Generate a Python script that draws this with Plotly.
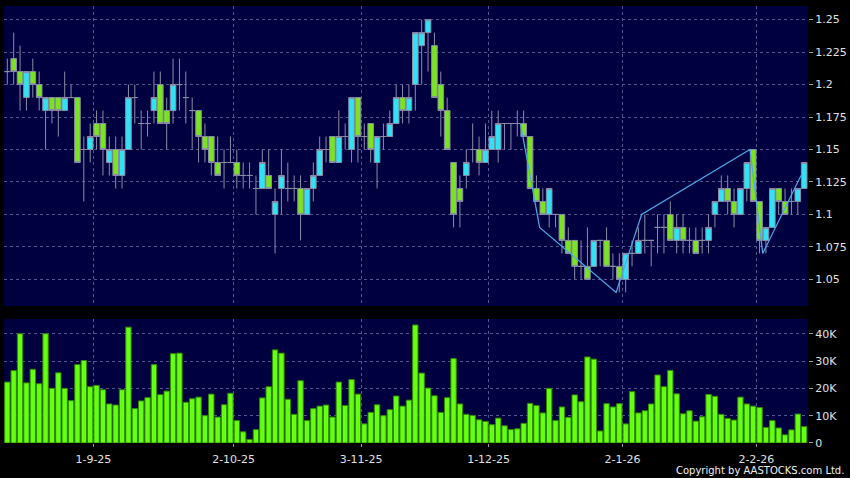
import pandas as pd
import plotly.graph_objects as go

# ---- data -------------------------------------------------------------
holidays = ["2025-10-01", "2025-10-07", "2025-10-29",
            "2025-12-25", "2025-12-26", "2026-01-01"]
dates = [d for d in pd.bdate_range("2025-08-13", "2026-02-12")
         if d.strftime("%Y-%m-%d") not in holidays]

open_ = [1.21,1.22,1.21,1.19,1.21,1.20,1.18,1.19,1.19,1.18,
         1.19,1.19,1.15,1.15,1.17,1.17,1.14,1.15,1.13,1.15,
         1.19,1.17,1.17,1.18,1.20,1.18,1.18,1.20,1.19,1.18,
         1.18,1.16,1.16,1.14,1.14,1.14,1.14,1.13,1.13,1.12,
         1.12,1.13,1.10,1.12,1.12,1.12,1.12,1.10,1.12,1.13,
         1.15,1.16,1.14,1.16,1.15,1.19,1.16,1.17,1.14,1.16,
         1.16,1.17,1.19,1.18,1.20,1.23,1.24,1.23,1.20,1.18,
         1.14,1.12,1.13,1.15,1.15,1.14,1.15,1.15,1.17,1.17,
         1.17,1.17,1.16,1.12,1.11,1.10,1.10,1.10,1.08,1.08,
         1.06,1.06,1.06,1.08,1.08,1.06,1.06,1.05,1.07,1.07,
         1.08,1.08,1.09,1.09,1.10,1.08,1.09,1.08,1.08,1.08,
         1.08,1.10,1.11,1.12,1.11,1.10,1.12,1.15,1.11,1.08,
         1.09,1.12,1.11,1.11,1.11,1.12]
high = [1.22,1.24,1.23,1.21,1.22,1.21,1.19,1.19,1.19,1.21,
        1.20,1.19,1.16,1.17,1.18,1.18,1.16,1.16,1.16,1.20,
        1.20,1.18,1.18,1.21,1.21,1.19,1.22,1.22,1.21,1.19,
        1.18,1.17,1.16,1.16,1.15,1.16,1.15,1.14,1.14,1.13,
        1.15,1.15,1.12,1.15,1.14,1.13,1.13,1.12,1.14,1.16,
        1.16,1.16,1.18,1.17,1.19,1.19,1.17,1.17,1.16,1.17,
        1.18,1.20,1.20,1.20,1.24,1.25,1.25,1.24,1.21,1.19,
        1.14,1.13,1.15,1.17,1.16,1.17,1.18,1.18,1.17,1.17,
        1.18,1.18,1.16,1.13,1.12,1.12,1.10,1.10,1.09,1.08,
        1.08,1.09,1.08,1.08,1.09,1.07,1.07,1.07,1.08,1.09,
        1.10,1.08,1.10,1.10,1.11,1.10,1.10,1.09,1.09,1.09,
        1.10,1.11,1.13,1.13,1.12,1.12,1.14,1.15,1.11,1.09,
        1.12,1.12,1.12,1.12,1.12,1.14]
low = [1.20,1.20,1.18,1.18,1.19,1.18,1.15,1.17,1.16,1.18,
       1.19,1.14,1.11,1.14,1.15,1.13,1.13,1.12,1.12,1.15,
       1.17,1.15,1.16,1.17,1.17,1.15,1.17,1.18,1.17,1.15,
       1.14,1.14,1.13,1.13,1.12,1.14,1.12,1.12,1.12,1.10,
       1.12,1.12,1.07,1.10,1.11,1.11,1.08,1.10,1.11,1.13,
       1.14,1.14,1.14,1.15,1.14,1.14,1.15,1.14,1.12,1.15,
       1.16,1.17,1.17,1.17,1.18,1.20,1.21,1.19,1.16,1.15,
       1.09,1.09,1.12,1.14,1.13,1.14,1.15,1.14,1.15,1.15,
       1.16,1.16,1.12,1.11,1.10,1.09,1.09,1.07,1.07,1.05,
       1.05,1.05,1.06,1.06,1.06,1.05,1.04,1.04,1.06,1.07,
       1.07,1.06,1.07,1.07,1.08,1.07,1.07,1.07,1.07,1.07,
       1.07,1.09,1.11,1.10,1.09,1.10,1.11,1.11,1.07,1.07,
       1.09,1.10,1.10,1.10,1.10,1.12]
close = [1.21,1.21,1.20,1.21,1.20,1.19,1.19,1.18,1.18,1.19,
         1.19,1.14,1.15,1.16,1.16,1.15,1.15,1.13,1.15,1.19,
         1.19,1.17,1.17,1.19,1.17,1.17,1.20,1.20,1.19,1.18,
         1.16,1.15,1.14,1.13,1.14,1.14,1.13,1.13,1.13,1.12,
         1.14,1.12,1.11,1.13,1.12,1.12,1.10,1.12,1.13,1.15,
         1.15,1.14,1.16,1.16,1.19,1.16,1.16,1.15,1.16,1.16,
         1.17,1.19,1.18,1.19,1.24,1.24,1.25,1.19,1.18,1.15,
         1.10,1.11,1.14,1.15,1.14,1.15,1.16,1.17,1.17,1.17,
         1.17,1.16,1.12,1.11,1.10,1.12,1.10,1.08,1.07,1.06,
         1.06,1.05,1.08,1.08,1.06,1.06,1.05,1.07,1.07,1.08,
         1.08,1.08,1.09,1.09,1.08,1.09,1.08,1.08,1.07,1.08,
         1.09,1.11,1.12,1.11,1.10,1.12,1.14,1.11,1.08,1.09,
         1.12,1.11,1.10,1.11,1.12,1.14]
volume_k = [22.3,26.5,40,22,27,21.7,40,20,25.7,20,
            15.5,28.7,30.2,20.6,21.1,19.5,14.3,13.9,19.5,42.4,
            12.6,15.4,16.6,28.7,17.7,19,32.7,32.9,14.9,16.2,
            16.8,10,17.9,9.5,14,18.2,8.2,4.1,1.3,4.9,
            16.5,20.6,34.1,32.9,16,10.5,22.8,8.2,12.6,13.5,
            13.9,9.5,22.3,13.7,23.2,17.9,7,11.2,14,10,
            12.2,17.2,13.5,15.7,43.2,25.6,20.1,17.3,11.2,16.6,
            30.9,14.3,10.5,10.1,8.5,7.9,6.7,9.1,6.3,4.9,
            5.2,7.2,14.5,13.7,11,20,8.2,13.2,9.4,17.6,
            15.1,31.5,30.7,4.4,14.4,13.2,14.4,7,18.8,11,
            11.8,14.3,24.9,20.6,26.6,18,10.7,11.8,8,9.6,
            17.8,17.1,10.5,9,8.4,16.8,14.3,13.5,13,5.7,
            8.2,5.5,3,4.8,10.6,6]
volume = [v * 1000 for v in volume_k]

# zig-zag line: (trading-day index, price)
zz_index = [81, 84, 96, 100, 117, 119, 125]
zz_price = [1.17, 1.09, 1.04, 1.10, 1.15, 1.07, 1.13]

price_ticks = [1.05, 1.075, 1.1, 1.125, 1.15, 1.175, 1.2, 1.225, 1.25]
price_labels = ["1.05", "1.075", "1.1", "1.125", "1.15", "1.175", "1.2", "1.225", "1.25"]
vol_ticks = [0, 10000, 20000, 30000, 40000]
vol_labels = ["0", "10K", "20K", "30K", "40K"]

# month ticks: first trading day of each full month
idx = list(range(len(dates)))
month_ticks, month_labels = [], []
for i, d in enumerate(dates):
    if i > 0 and d.month != dates[i - 1].month:
        month_ticks.append(i + 0.5)
        month_labels.append(f"{d.day}-{d.month}-{d.year % 100}")

# ---- figure -----------------------------------------------------------
GRID = "#55558f"
FONT = dict(family="DejaVu Sans", size=11, color="#e0e0e0")
common_grid = dict(showgrid=True, gridcolor=GRID, griddash="3px,3px", gridwidth=1,
                   zeroline=False, automargin=False, fixedrange=True)

fig = go.Figure()
fig.add_trace(go.Scatter(
    x=[i - 0.5 for i in zz_index], y=zz_price, mode="lines",
    line=dict(color="#4fa8e8", width=1.2), xaxis="x", yaxis="y",
    hoverinfo="skip"))
fig.add_trace(go.Candlestick(
    x=idx, open=open_, high=high, low=low, close=close,
    increasing=dict(fillcolor="#2fe3f5", line=dict(color="#8c8ca6", width=1)),
    decreasing=dict(fillcolor="#7ae41e", line=dict(color="#8c8ca6", width=1)),
    whiskerwidth=0, xaxis="x", yaxis="y"))
fig.add_trace(go.Bar(
    x=idx, y=volume, width=0.84,
    marker=dict(color="#66ff12", line=dict(color="#2f8a00", width=1)),
    xaxis="x2", yaxis="y2"))

fig.update_layout(
    width=850, height=478,
    margin=dict(l=4, r=42, t=6, b=35, autoexpand=False),
    paper_bgcolor="#000000", plot_bgcolor="#000040",
    showlegend=False, boxgap=0.12, boxgroupgap=0,
    font=FONT,
    xaxis=dict(domain=[0, 1], range=[-0.52, 125.6], anchor="y",
               tickvals=month_ticks, showticklabels=False, ticks="",
               rangeslider=dict(visible=False), **common_grid),
    yaxis=dict(domain=[0.3135, 1], range=[1.0295, 1.2605], anchor="x", side="right",
               tickvals=price_ticks, ticktext=price_labels, ticks="outside",
               ticklen=4, tickcolor="#9a9a9a", tickfont=FONT, **common_grid),
    xaxis2=dict(domain=[0, 1], range=[-0.52, 125.6], anchor="y2",
                tickvals=month_ticks, ticktext=month_labels, ticks="outside",
                ticklen=3, tickcolor="#9a9a9a", tickfont=FONT, ticklabelstandoff=3,
                **common_grid),
    yaxis2=dict(domain=[0, 0.2838], range=[0, 45400], anchor="x2", side="right",
                tickvals=vol_ticks, ticktext=vol_labels, ticks="outside",
                ticklen=4, tickcolor="#9a9a9a", tickfont=FONT, **common_grid),
    annotations=[dict(text="Copyright by AASTOCKS.com Ltd.", xref="paper", yref="paper",
                      x=1.0473, y=-0.064, xanchor="right", yanchor="middle",
                      showarrow=False, font=dict(family="DejaVu Sans", size=10, color="#f0f0f0"))],
)

fig.write_html("out.html", config={"displayModeBar": False},
               post_script="document.body.style.margin='0';document.body.style.background='#000';")
